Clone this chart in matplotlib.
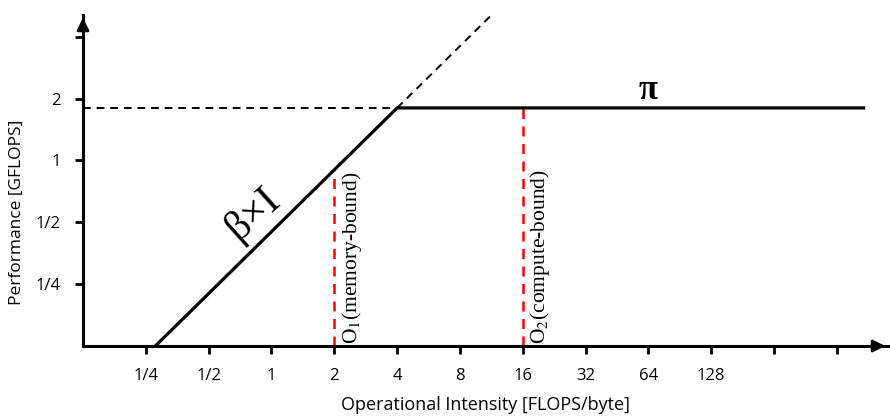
import matplotlib

matplotlib.use("Agg")
import matplotlib.pyplot as plt
import numpy as np

# roofline parameters
BETA = 0.45          # GFLOPS per FLOPS/byte (memory bandwidth slope)
PI_PEAK = 1.8        # peak performance
O1 = 2               # memory-bound kernel
O2 = 16              # compute-bound kernel

x_ticks = [0.25, 0.5, 1, 2, 4, 8, 16, 32, 64, 128, 256, 512]
x_labels = ["1/4", "1/2", "1", "2", "4", "8", "16", "32", "64", "128", "", ""]
y_ticks = [0.25, 0.5, 1, 2, 4]
y_labels = ["1/4", "1/2", "1", "2", ""]

X_MIN, X_MAX = 0.125, 900
Y_MIN, Y_MAX = 0.125, 5.1
ROOF_END = 700
SLOPE_START = Y_MIN / BETA
DASH_END = 11.2

plt.rcParams["font.family"] = ["Open Sans", "DejaVu Sans"]
plt.rcParams["mathtext.fontset"] = "stix"

W, H = 890, 417
fig = plt.figure(figsize=(W / 100, H / 100), dpi=100)
ax = fig.add_axes([83 / W, (H - 346) / H, (888 - 83) / W, (346 - 15) / H])

ax.set_xscale("log", base=2)
ax.set_yscale("log", base=2)
ax.set_xlim(X_MIN, X_MAX)
ax.set_ylim(Y_MIN, Y_MAX)

ridge = PI_PEAK / BETA
xs = np.array([SLOPE_START, ridge, ROOF_END])
ax.plot(xs, np.minimum(BETA * xs, PI_PEAK), color="black", lw=2.3,
        solid_capstyle="butt", zorder=3)
ax.plot([ridge, DASH_END], [PI_PEAK, BETA * DASH_END], color="black", lw=1.4,
        ls=(0, (4, 3)))
ax.plot([X_MIN, ridge], [PI_PEAK, PI_PEAK], color="black", lw=1.4,
        ls=(0, (4, 3)))

for o in [O1, O2]:
    ax.plot([o, o], [Y_MIN, min(BETA * o, PI_PEAK)], color="red", lw=1.8,
            ls=(0, (4, 3)), zorder=2)

serif = "Liberation Serif"
ax.text(O1 * 1.06, Y_MIN * 1.02, "O$_1$(memory-bound)", rotation=90,
        ha="left", va="bottom", fontsize=15.5, family=serif)
ax.text(O2 * 1.06, Y_MIN * 1.02, "O$_2$(compute-bound)", rotation=90,
        ha="left", va="bottom", fontsize=15.5, family=serif)
ax.text(0.82, 0.55, "β×I", rotation=42, ha="center", va="center",
        fontsize=30, family=serif)
ax.text(64, 2.2, "π", ha="center", va="center", fontsize=25, family=serif,
        fontweight="bold")

ax.set_xticks(x_ticks)
ax.set_xticklabels(x_labels)
ax.set_yticks(y_ticks)
ax.set_yticklabels(y_labels)
ax.minorticks_off()
ax.tick_params(axis="both", direction="out", length=6, width=2, labelsize=12,
               pad=10)

for side in ["top", "right"]:
    ax.spines[side].set_visible(False)
for side in ["left", "bottom"]:
    ax.spines[side].set_linewidth(2.2)

ax.annotate("", xy=(1.0, 0), xytext=(0.98, 0), xycoords="axes fraction",
            arrowprops=dict(arrowstyle="-|>", lw=2, color="black",
                            mutation_scale=18), annotation_clip=False)
ax.annotate("", xy=(0, 1.0), xytext=(0, 0.96), xycoords="axes fraction",
            arrowprops=dict(arrowstyle="-|>", lw=2, color="black",
                            mutation_scale=18), annotation_clip=False)

ax.set_xlabel("Operational Intensity [FLOPS/byte]", fontsize=13)
ax.set_ylabel("Performance [GFLOPS]", fontsize=12.5)
ax.xaxis.set_label_coords(0.5, -0.152)
ax.yaxis.set_label_coords(-0.072, 0.405)

fig.savefig("out.png", dpi=100)
